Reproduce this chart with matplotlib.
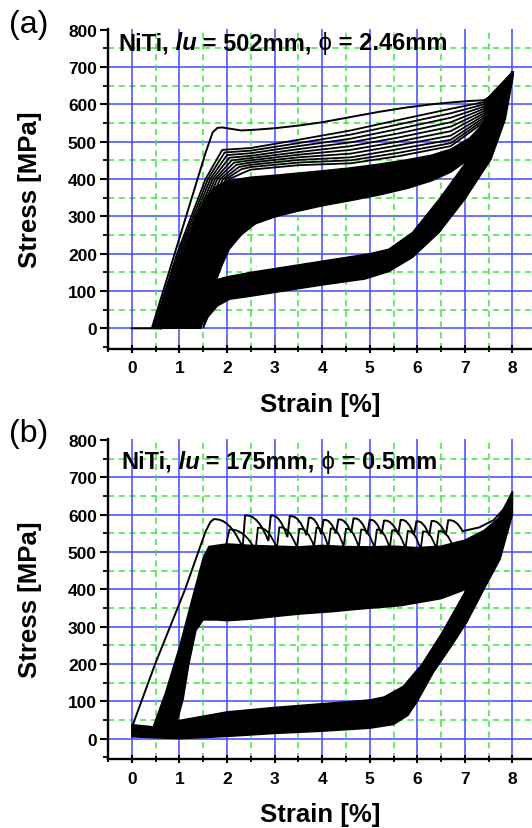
import matplotlib
matplotlib.use('Agg')
import matplotlib.pyplot as plt
from matplotlib.ticker import MultipleLocator
from matplotlib.path import Path
from matplotlib.patches import PathPatch
from matplotlib.text import Annotation

plt.rcParams['font.family'] = ['Liberation Sans', 'DejaVu Sans']
plt.rcParams['font.weight'] = 'bold'
plt.rcParams['axes.labelweight'] = 'bold'

# ---------------- (a) NiTi, lu = 502 mm, d = 2.46 mm ----------------
# first loading cycle
a_first_x = [0.0, 0.42, 1.55, 1.70, 1.80, 1.90, 2.05, 2.30, 2.60, 3.00, 3.50, 4.00,
             4.60, 5.20, 5.80, 6.30, 6.70, 7.10, 7.40, 7.60, 7.80, 8.00]
a_first_y = [0, 0, 470, 525, 537, 538, 535, 530, 532, 536, 543, 552,
             566, 580, 592, 600, 605, 609, 611, 625, 650, 686]

# following cycles that still stand out above the dense band
a_grp_x0 = [0.45, 0.47, 0.50, 0.52, 0.54, 0.56, 0.58, 0.60, 0.61, 0.62]
a_grp_x200 = [0.95, 0.98, 1.01, 1.04, 1.07, 1.10, 1.13, 1.16, 1.18, 1.20]
a_grp_x400 = [1.55, 1.60, 1.65, 1.70, 1.75, 1.80, 1.86, 1.92, 1.98, 2.05]
a_grp_knee_x = [1.90, 1.95, 2.00, 2.05, 2.10, 2.15, 2.20, 2.25, 2.30, 2.40]
a_grp_knee_y = [478, 471, 464, 457, 450, 444, 438, 432, 426, 420]
a_plat_x = [2.5, 3.5, 4.6, 5.6, 6.7, 7.4]
a_plat_y = [[483, 505, 530, 558, 588, 606],
            [476, 496, 519, 546, 576, 600],
            [469, 488, 508, 534, 564, 594],
            [462, 480, 498, 522, 552, 588],
            [456, 472, 488, 511, 540, 582],
            [450, 465, 478, 500, 528, 576],
            [444, 458, 468, 490, 516, 570],
            [438, 451, 458, 480, 505, 564],
            [432, 444, 450, 470, 496, 558],
            [425, 437, 442, 461, 488, 552]]
a_peak = (8.0, 686)

# dense band of loading curves
a_band_up_x = [0.62, 0.85, 1.10, 1.35, 1.55, 1.75, 2.00, 2.50, 3.00, 3.50, 4.00, 4.60,
               5.20, 5.80, 6.30, 6.70, 7.10, 7.40, 7.70, 8.00]
a_band_up_y = [0, 100, 200, 300, 350, 378, 395, 405, 410, 416, 422, 430,
               440, 452, 464, 480, 510, 550, 612, 686]
a_band_lo_x = [1.45, 1.55, 1.65, 1.75, 1.90, 2.05, 2.30, 2.60, 3.00, 3.40, 4.00, 4.60,
               5.20, 5.80, 6.30, 6.70, 7.00, 7.30, 7.60, 7.85, 8.00]
a_band_lo_y = [0, 35, 75, 120, 170, 212, 250, 280, 298, 311, 328, 342,
               357, 375, 395, 418, 445, 480, 540, 610, 660]

# dense band of unloading curves
a_unl_up_x = [1.72, 2.00, 2.50, 3.00, 3.50, 4.00, 4.60, 5.00, 5.40, 5.90, 6.46, 7.07, 7.60, 8.00]
a_unl_up_y = [128, 138, 150, 160, 170, 180, 192, 200, 212, 257, 346, 453, 560, 686]
a_unl_lo_x = [1.50, 1.60, 1.80, 2.06, 2.50, 3.00, 3.50, 4.00, 4.90, 5.40, 5.90, 6.46,
              7.00, 7.55, 7.85, 8.02]
a_unl_lo_y = [0, 30, 60, 78, 86, 96, 106, 116, 132, 152, 190, 257,
              346, 453, 560, 680]

# ---------------- (b) NiTi, lu = 175 mm, d = 0.5 mm ----------------
b_first_x = [0.00, 0.49, 1.12, 1.55, 1.65]
b_first_y = [30, 200, 400, 555, 580]

# serrated plateau of the first cycle
b_peak_x = [1.72, 2.38, 2.92, 3.32, 3.72, 4.03, 4.34, 4.66, 5.00, 5.30, 5.65, 5.98, 6.30, 6.65]
b_peak_y = [588, 598, 598, 596, 592, 586, 587, 590, 586, 584, 586, 582, 583, 585]
b_trough_x = [2.33, 2.87, 3.27, 3.67, 3.98, 4.29, 4.61, 4.95, 5.25, 5.60, 5.93, 6.25, 6.60, 6.95]
b_trough_y = [512, 530, 540, 545, 548, 550, 552, 548, 548, 548, 546, 545, 546, 556]
b_tail_x = [7.30, 7.60, 7.85, 8.00]
b_tail_y = [566, 585, 620, 662]

# lower serrations of later cycles
b2_start = (1.95, 500)
b2_peak_x = [2.05, 2.65, 3.10, 3.52, 3.88, 4.18, 4.50, 4.82, 5.15, 5.47, 5.80, 6.12, 6.45]
b2_peak_y = [560, 565, 566, 562, 565, 563, 562, 560, 560, 558, 556, 555, 556]
b2_trough_x = [2.60, 3.05, 3.47, 3.83, 4.13, 4.45, 4.77, 5.10, 5.42, 5.75, 6.07, 6.40, 6.75]
b2_trough_y = [505, 510, 512, 515, 512, 514, 512, 510, 510, 508, 506, 508, 515]

b_band_up_x = [0.45, 0.70, 1.00, 1.30, 1.50, 1.62, 2.00, 2.50, 3.00, 3.50, 4.00, 4.50,
               5.00, 5.50, 6.00, 6.50, 7.00, 7.40, 7.70, 8.00]
b_band_up_y = [32, 120, 245, 390, 485, 515, 522, 518, 516, 514, 518, 515,
               514, 516, 512, 516, 532, 558, 590, 662]
b_band_lo_x = [0.95, 1.08, 1.20, 1.35, 1.50, 1.80, 2.00, 2.50, 3.00, 3.54, 4.20, 4.77,
               5.64, 6.50, 7.04, 7.40, 7.74, 8.00]
b_band_lo_y = [45, 106, 200, 290, 318, 318, 316, 320, 327, 334, 340, 347,
               356, 375, 401, 455, 535, 640]

b_unl_up_x = [0.00, 0.45, 0.95, 2.00, 3.00, 4.00, 5.00, 5.30, 5.70, 6.10, 6.50, 6.90, 7.30, 7.70, 8.00]
b_unl_up_y = [38, 32, 48, 72, 84, 94, 104, 112, 140, 200, 280, 370, 460, 560, 662]
b_unl_lo_x = [0.00, 1.00, 2.00, 3.00, 4.00, 5.00, 5.50, 5.80, 6.00, 6.34, 6.70, 7.04, 7.40, 7.74, 8.00]
b_unl_lo_y = [5, 0, 6, 14, 20, 28, 38, 62, 100, 178, 245, 312, 400, 481, 600]

y_major = [0, 100, 200, 300, 400, 500, 600, 700]
y_minor = [50, 150, 250, 350, 450, 550, 650, 750]

BLUE = '#4646ff'
GREEN = '#3ce63c'


def fill_band(ax, up_x, up_y, lo_x, lo_y):
    xs = list(up_x) + list(lo_x)[::-1]
    ys = list(up_y) + list(lo_y)[::-1]
    ax.fill(xs, ys, facecolor='black', edgecolor='black', lw=1.0, zorder=2)


def serrated(start, px, py, tx, ty):
    verts = list(start) + [(px[0], py[0])]
    codes = [Path.MOVETO] + [Path.LINETO] * len(start)
    for i in range(len(px)):
        ctrl = (px[i] + 0.55 * (tx[i] - px[i]), py[i] + 4)
        verts += [ctrl, (tx[i], ty[i])]
        codes += [Path.CURVE3, Path.CURVE3]
        if i + 1 < len(px):
            verts.append((px[i + 1], py[i + 1]))
            codes.append(Path.LINETO)
    return verts, codes


def style_axes(ax):
    ax.set_xlim(-0.5, 8.41)
    ax.set_ylim(-54, 802)
    ax.xaxis.set_major_locator(MultipleLocator(1))
    ax.xaxis.set_minor_locator(MultipleLocator(0.5))
    ax.yaxis.set_major_locator(MultipleLocator(100))
    ax.yaxis.set_minor_locator(MultipleLocator(50))
    ax.set_axisbelow(True)
    ax.xaxis.grid(True, which='major', color=BLUE, lw=1.1, ls='-')
    ax.xaxis.grid(True, which='minor', color=GREEN, lw=1.1, ls=(0, (4, 3)))
    for v in y_major:
        ax.axhline(v, color=BLUE, lw=1.1, zorder=0.5)
    for v in y_minor:
        ax.axhline(v, color=GREEN, lw=1.1, ls=(0, (4, 3)), zorder=0.5)
    for s in ['top', 'right']:
        ax.spines[s].set_visible(False)
    for s in ['left', 'bottom']:
        ax.spines[s].set_linewidth(1.7)
    ax.tick_params(axis='y', which='major', direction='out', length=5.5, width=1.5,
                   pad=2.5, labelsize=12.5)
    ax.tick_params(axis='y', which='minor', direction='out', length=3.5, width=1.3)
    ax.tick_params(axis='x', which='major', direction='inout', length=6, width=1.5,
                   pad=5.5, labelsize=12.5)
    ax.tick_params(axis='x', which='minor', direction='inout', length=5, width=1.3)
    ax.set_xlabel('Strain [%]', fontsize=18.5, va='baseline')
    ax.xaxis.set_label_coords(0.5, -0.194)
    ax.set_ylabel('Stress [MPa]', fontsize=18.5, va='center')
    ax.yaxis.set_label_coords(-0.184, 0.5)


W, H = 532, 829
fig = plt.figure(figsize=(5.32, 8.29), dpi=100)
ax_a = fig.add_axes([108 / W, 1 - 349.5 / H, 424 / W, 319.6 / H])
ax_b = fig.add_axes([108 / W, 1 - 759.9 / H, 424 / W, 319.6 / H])

# ---- panel (a)
fill_band(ax_a, a_band_up_x, a_band_up_y, a_band_lo_x, a_band_lo_y)
fill_band(ax_a, a_unl_up_x, a_unl_up_y, a_unl_lo_x, a_unl_lo_y)
for i in range(len(a_grp_x0)):
    xs = [a_grp_x0[i], a_grp_x200[i], a_grp_x400[i], a_grp_knee_x[i]] + a_plat_x + [a_peak[0]]
    ys = [0, 200, 400, a_grp_knee_y[i]] + a_plat_y[i] + [a_peak[1]]
    ax_a.plot(xs, ys, color='black', lw=1.3, zorder=3, solid_joinstyle='round')
ax_a.plot(a_first_x, a_first_y, color='black', lw=1.4, zorder=3, solid_joinstyle='round')
style_axes(ax_a)

# ---- panel (b)
fill_band(ax_b, b_band_up_x, b_band_up_y, b_band_lo_x, b_band_lo_y)
fill_band(ax_b, b_unl_up_x, b_unl_up_y, b_unl_lo_x, b_unl_lo_y)
v, c = serrated(list(zip(b_first_x, b_first_y)), b_peak_x, b_peak_y, b_trough_x, b_trough_y)
v += list(zip(b_tail_x, b_tail_y))
c += [Path.LINETO] * len(b_tail_x)
ax_b.add_patch(PathPatch(Path(v, c), fill=False, ec='black', lw=1.4, zorder=3))
v2, c2 = serrated([b2_start], b2_peak_x, b2_peak_y, b2_trough_x, b2_trough_y)
ax_b.add_patch(PathPatch(Path(v2, c2), fill=False, ec='black', lw=1.3, zorder=3))
style_axes(ax_b)


# ---- panel letters and specimen notes
def note(x_px, y_px, pieces, size):
    t = fig.text(x_px / W, 1 - y_px / H, pieces[0][0], fontsize=size, va='baseline',
                 **pieces[0][1])
    for s, kw in pieces[1:]:
        t = fig.add_artist(Annotation(s, xy=(1, 0), xycoords=t, va='bottom', ha='left',
                                      fontsize=size, **kw))


note(118, 50, [('NiTi,', {}), (' lu', {'style': 'italic'}), (' = 502mm,', {}),
               (' ϕ', {'fontweight': 'normal'}), (' = 2.46mm', {})], 17)
note(121, 469, [('NiTi,', {}), (' lu', {'style': 'italic'}), (' = 175mm,', {}),
                (' ϕ', {'fontweight': 'normal'}), (' = 0.5mm', {})], 17)
fig.text(9 / W, 1 - 33 / H, '(a)', fontsize=23, fontweight='normal', va='baseline')
fig.text(9 / W, 1 - 442 / H, '(b)', fontsize=23, fontweight='normal', va='baseline')

fig.savefig('out.png', dpi=100)
